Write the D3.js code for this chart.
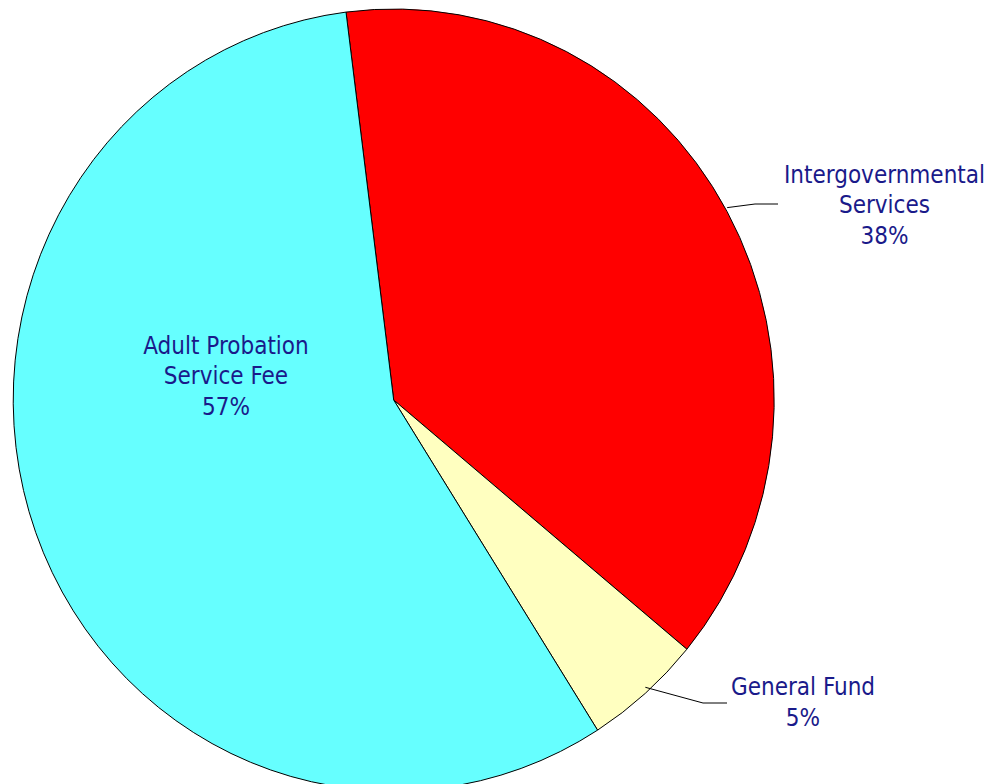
<!DOCTYPE html>
<html><head><meta charset="utf-8">
<script src="https://cdn.jsdelivr.net/npm/d3@7"></script>
<style>html,body{margin:0;padding:0;background:#fff;}svg{display:block;}</style>
</head><body>
<svg id="chart" width="992" height="784"></svg>
<script>
const categories = ["Intergovernmental Services", "General Fund", "Adult Probation Service Fee"];
const values = [38, 5, 57];
const labelLines = [["Intergovernmental", "Services", "38%"], ["General Fund", "5%"], ["Adult Probation", "Service Fee", "57%"]];
const colors = ["#ff0000", "#ffffc0", "#66ffff"];

const W = 992, H = 784;
const cx = 393.7, cy = 400, rx = 380.5, ry = 391;
const startDeg = -7.2;
const textColor = "#1a1a8a";

const svg = d3.select("#chart");
const color = d3.scaleOrdinal().domain(categories).range(colors);
const pie = d3.pie().value(d => d).sort(null)
  .startAngle(startDeg * Math.PI / 180)
  .endAngle((startDeg + 360) * Math.PI / 180);
const arcs = pie(values);
const arc = d3.arc().innerRadius(0).outerRadius(rx);

const g = svg.append("g").attr("transform", `translate(${cx},${cy}) scale(1,${ry / rx})`);
g.selectAll("path").data(arcs).enter().append("path")
  .attr("d", arc)
  .attr("fill", (d, i) => color(categories[i]))
  .attr("stroke", "#000")
  .attr("stroke-width", 1)
  .attr("vector-effect", "non-scaling-stroke")
  .attr("stroke-linejoin", "round");

// label layout (positions only)
const labelLayout = [
  { x: 884.5, y: 182.5, inside: false, elbow: [755, 204], end: [778, 204], edgeDy: -4 },
  { x: 803, y: 695, inside: false, elbow: [703, 703], end: [727, 703], edgeDy: -6 },
  { x: 226, y: 353.5, inside: true }
];
const lineH = 30.5;

arcs.forEach((a, i) => {
  const L = labelLayout[i];
  if (!L.inside) {
    const mid = (a.startAngle + a.endAngle) / 2;
    const ex = cx + rx * Math.sin(mid);
    const ey = cy - ry * Math.cos(mid) + L.edgeDy;
    svg.append("path")
      .attr("d", d3.line()([[ex, ey], L.elbow, L.end]))
      .attr("fill", "none").attr("stroke", "#000").attr("stroke-width", 1);
  }
  const t = svg.append("text")
    .attr("text-anchor", "middle")
    .attr("font-family", "'DejaVu Sans Condensed', 'DejaVu Sans', sans-serif")
    .attr("font-stretch", "condensed")
    .attr("font-size", 24)
    .attr("fill", textColor);
  labelLines[i].forEach((s, k) => {
    t.append("tspan").attr("x", L.x).attr("y", L.y + k * lineH).text(s);
  });
});
</script>
</body></html>
